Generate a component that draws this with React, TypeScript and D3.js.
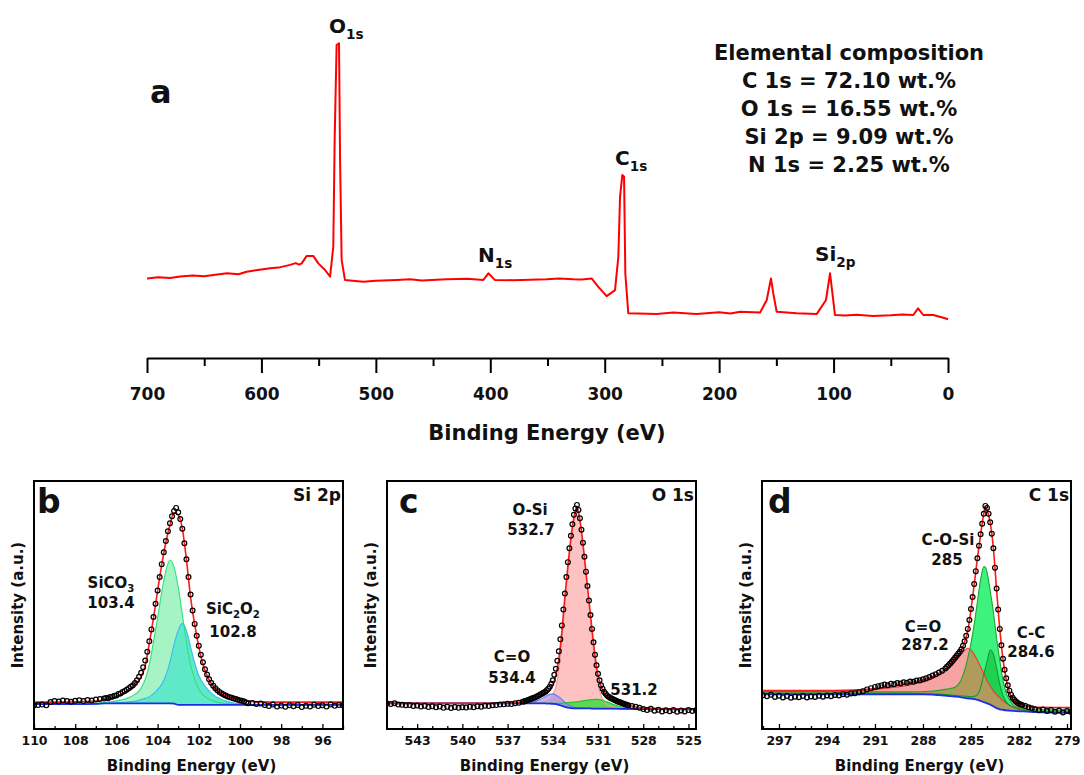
import React, { useEffect, useRef } from 'react';
import * as d3 from 'd3';

const W = 1084;
const H = 775;
const SANS = "'DejaVu Sans', Verdana, sans-serif";

// ---------- panel a : survey scan (binding energy eV, intensity a.u.) ----------
const surveyBE = [700, 690, 680, 671, 660, 650, 642, 630, 620, 613, 600, 592.5, 585, 575, 570, 567, 564.8, 560.4, 554.7, 550.3, 544.4, 540, 537.2, 536, 534.3, 532.2, 531.3, 529.9, 527, 511, 500, 481.8, 470, 460, 438, 420, 406, 401.7, 396, 380, 350.7, 340, 327.5, 320, 311.4, 305.6, 298.3, 291, 288.1, 286.6, 284.6, 283.1, 282, 279.4, 254.6, 240, 220, 210.9, 200, 190, 181.8, 164.3, 158.4, 154.7, 152.7, 149.7, 132.2, 114.8, 106.6, 103.1, 100.3, 98.8, 90, 80, 65.3, 50, 40, 30.3, 26.2, 21.6, 12.8, 2.6, 0];
const surveyI = [17.2, 17.6, 17.3, 17.8, 18.2, 17.9, 18.3, 18.9, 18.6, 19.4, 20.2, 20.6, 20.8, 21.7, 22.3, 21.8, 22.2, 24.7, 24.7, 22.2, 20, 17.8, 27.8, 63.3, 95, 95.6, 57.8, 23.3, 16.7, 16.1, 16.4, 16.7, 16.9, 16.5, 16.9, 17.1, 16.7, 18.9, 16.7, 16.6, 16.9, 17.2, 16.9, 16.8, 17.2, 14.4, 11.3, 13.3, 24.4, 44.4, 51.7, 51.1, 18.9, 5.6, 5.3, 5.8, 5.3, 5.6, 5.9, 5.5, 6.1, 5.8, 10, 17.2, 12.2, 6.1, 5.6, 5.3, 10, 18.9, 10, 5, 4.8, 5.1, 4.7, 4.9, 5.2, 5, 7.2, 5, 5, 3.9, 3.6];
const surveyTicks = [700, 600, 500, 400, 300, 200, 100, 0];
const surveyMinor = [650, 550, 450, 350, 250, 150, 50];
const composition: [string, string][] = [
  ['C 1s', '72.10'],
  ['O 1s', '16.55'],
  ['Si 2p', '9.09'],
  ['N 1s', '2.25'],
];

// ---------- panel b : Si 2p ----------
const bGrid = [110, 109, 108, 107, 106.6, 106.2, 105.8, 105.4, 105.0, 104.8, 104.6, 104.4, 104.2, 104.0, 103.8, 103.6, 103.4, 103.2, 103.0, 102.8, 102.6, 102.4, 102.2, 102.0, 101.8, 101.6, 101.4, 101.2, 101.0, 100.6, 100.2, 99.6, 99, 98, 95];
const bBaseline = [10.0, 10.0, 10.0, 10.1, 10.3, 10.3, 10.3, 10.3, 10.3, 10.3, 10.3, 10.3, 10.3, 10.3, 10.3, 10.3, 10.3, 10.2, 9.7, 9.7, 9.7, 9.7, 9.7, 9.7, 9.7, 9.7, 9.7, 9.7, 9.7, 9.7, 9.7, 9.7, 9.7, 9.7, 9.7];
const bEnvelope = [10.8, 10.8, 10.9, 11.2, 11.8, 12.6, 13.8, 15.5, 18.5, 21.0, 25.5, 34.5, 44.5, 55.5, 65.9, 75.0, 82.0, 86.8, 86.0, 80.5, 68.0, 53.0, 42.0, 33.0, 26.0, 21.5, 18.3, 16.2, 14.8, 13.0, 12.0, 11.2, 10.9, 10.8, 10.8];
const bSiCO3 = [10.0, 10.1, 10.2, 10.4, 10.6, 11.0, 11.6, 12.6, 14.5, 16.5, 20.0, 26.0, 35.0, 44.5, 55.0, 63.5, 67.9, 65.0, 57.0, 46.0, 35.0, 26.0, 20.0, 16.0, 13.8, 12.5, 11.6, 11.0, 10.6, 10.2, 10.0, 9.8, 9.7, 9.7, 9.7];
const bSiC2O2 = [10.0, 10.0, 10.0, 10.1, 10.3, 10.4, 10.6, 10.9, 11.3, 11.8, 12.3, 13.0, 14.2, 15.8, 18.0, 21.5, 27.0, 34.0, 39.5, 42.4, 39.5, 33.0, 26.5, 21.5, 18.5, 16.2, 14.5, 13.2, 12.3, 11.0, 10.3, 9.9, 9.7, 9.7, 9.7];
const bData: [number, number][] = [
  [110, 9.4], [109.8, 9.6], [109.6, 9.8], [109.4, 9.5], [109.2, 10.8], [109, 11.2], [108.8, 11.0], [108.6, 11.4], [108.4, 11.2], [108.2, 10.9], [108, 11.3], [107.8, 11.5], [107.6, 11.2], [107.4, 11.6], [107.2, 11.4], [107, 11.8], [106.8, 12.0],
  [106.6, 12.2], [106.5, 12.5], [106.4, 12.3], [106.3, 12.9], [106.2, 13.0], [106.1, 13.4], [106.0, 13.5], [105.9, 14.1], [105.8, 14.3], [105.7, 14.9], [105.6, 15.3], [105.5, 15.8], [105.4, 16.4], [105.3, 17.0], [105.2, 17.6], [105.1, 18.5], [105.0, 19.6], [104.9, 21.0], [104.8, 22.6], [104.7, 24.8], [104.6, 27.5], [104.5, 31.0], [104.4, 35.2], [104.3, 40.0], [104.2, 45.0], [104.1, 50.3], [104.0, 55.6], [103.9, 61.0], [103.8, 66.2], [103.7, 71.0], [103.6, 75.5], [103.5, 79.4], [103.4, 82.6], [103.3, 85.4], [103.2, 87.6], [103.1, 88.8], [103.0, 87.0], [102.9, 84.3], [102.8, 80.4], [102.7, 74.6], [102.6, 68.2], [102.5, 61.0], [102.4, 54.0], [102.3, 47.6], [102.2, 42.2], [102.1, 37.4], [102.0, 33.4], [101.9, 29.8], [101.8, 26.8], [101.7, 24.0], [101.6, 21.9], [101.5, 20.0], [101.4, 18.6], [101.3, 17.4], [101.2, 16.4], [101.1, 15.6], [101.0, 14.9], [100.9, 14.4], [100.8, 13.9], [100.7, 13.5], [100.6, 13.1], [100.5, 12.8], [100.4, 12.6], [100.3, 12.2], [100.2, 12.0], [100.1, 11.7], [100.0, 11.4], [99.9, 11.3], [99.8, 11.0], [99.7, 10.6], [99.6, 10.3],
  [99.4, 10.4], [99.2, 10.0], [99.0, 10.2], [98.8, 9.6], [98.6, 9.2], [98.4, 9.8], [98.2, 9.0], [98.0, 9.4], [97.8, 8.9], [97.6, 9.5], [97.4, 9.1], [97.2, 9.6], [97.0, 8.8], [96.8, 9.3], [96.6, 9.0], [96.4, 9.7], [96.2, 9.2], [96.0, 9.5], [95.8, 9.0], [95.6, 9.8], [95.4, 9.3], [95.2, 9.6], [95.0, 9.4],
];

// ---------- panel c : O 1s ----------
const cGrid = [545, 538, 536.5, 536, 535.5, 535, 534.6, 534.4, 534.2, 534.0, 533.8, 533.6, 533.4, 533.2, 533.0, 532.8, 532.6, 532.4, 532.2, 532.0, 531.8, 531.6, 531.4, 531.2, 531.0, 530.8, 530.6, 530.4, 530.0, 529.5, 529, 528.5, 528, 526, 524.5];
const cBaseline = [10.3, 10.3, 10.3, 10.3, 10.3, 10.3, 10.3, 10.2, 10.2, 10.1, 10.0, 9.7, 9.3, 8.9, 8.6, 8.4, 8.3, 8.3, 8.3, 8.3, 8.3, 8.3, 8.2, 8.2, 8.2, 8.2, 8.2, 8.2, 8.2, 8.1, 8.1, 8.0, 8.0, 7.9, 7.9];
const cEnvelope = [10.3, 10.3, 10.5, 10.9, 11.6, 12.5, 13.5, 14.3, 15.5, 17.8, 21.5, 28.0, 39.0, 53.0, 65.5, 76.5, 85.0, 88.9, 84.0, 74.5, 63.0, 51.5, 40.0, 29.5, 21.5, 17.2, 14.5, 13.0, 11.5, 10.5, 9.6, 8.8, 8.4, 8.1, 8.0];
const cOSi = [10.3, 10.3, 10.3, 10.3, 10.4, 10.6, 11.0, 11.4, 12.2, 13.8, 17.0, 23.5, 35.0, 49.5, 63.0, 74.5, 84.0, 88.5, 83.5, 73.5, 61.5, 49.5, 37.5, 26.5, 18.0, 13.5, 11.0, 9.8, 8.8, 8.4, 8.1, 8.0, 8.0, 7.9, 7.9];
const cCO = [10.3, 10.3, 10.3, 10.4, 10.7, 11.5, 12.6, 13.3, 13.9, 14.1, 13.7, 12.9, 11.9, 10.8, 9.9, 9.2, 8.7, 8.4, 8.3, 8.3, 8.3, 8.3, 8.2, 8.2, 8.2, 8.2, 8.2, 8.2, 8.2, 8.1, 8.1, 8.0, 8.0, 7.9, 7.9];
const cLow = [10.3, 10.3, 10.3, 10.3, 10.3, 10.3, 10.3, 10.3, 10.3, 10.3, 10.3, 10.35, 10.4, 10.5, 10.6, 10.7, 10.8, 10.9, 11.1, 11.3, 11.5, 11.7, 11.8, 11.9, 11.9, 11.7, 11.3, 10.9, 9.9, 8.9, 8.3, 8.0, 8.0, 7.9, 7.9];
const cData: [number, number][] = [
  [545.0, 10.2], [544.75, 10.0], [544.5, 10.3], [544.25, 9.8], [544.0, 9.7], [543.75, 9.5], [543.5, 9.6], [543.25, 9.2], [543.0, 9.4], [542.75, 9.0], [542.5, 9.3], [542.25, 8.8], [542.0, 9.1], [541.75, 8.7], [541.5, 9.0], [541.25, 8.5], [541.0, 8.9], [540.75, 8.4], [540.5, 8.8], [540.25, 8.5], [540.0, 8.7], [539.75, 8.6], [539.5, 8.9], [539.25, 8.7], [539.0, 9.1], [538.75, 8.9], [538.5, 9.3], [538.25, 9.2], [538.0, 9.5], [537.75, 9.6], [537.5, 9.8], [537.25, 9.9], [537.0, 10.1], [536.75, 10.0], [536.5, 10.3], [536.25, 10.5],
  [536.0, 10.9], [535.9, 11.0], [535.8, 11.3], [535.7, 11.4], [535.6, 11.7], [535.5, 11.9], [535.4, 12.2], [535.3, 12.4], [535.2, 12.7], [535.1, 13.0], [535.0, 13.3], [534.9, 13.6], [534.8, 14.0], [534.7, 14.3], [534.6, 14.7], [534.5, 15.0], [534.4, 15.6], [534.3, 16.2], [534.2, 17.0], [534.1, 18.2], [534.0, 19.6], [533.9, 21.8], [533.8, 24.2], [533.7, 27.4], [533.6, 31.2], [533.5, 36.0], [533.4, 41.6], [533.3, 48.0], [533.2, 54.4], [533.1, 61.0], [533.0, 67.0], [532.9, 72.6], [532.8, 77.6], [532.7, 82.2], [532.6, 86.0], [532.5, 88.6], [532.4, 90.0], [532.3, 88.0], [532.2, 84.6], [532.1, 80.0], [532.0, 74.8], [531.9, 69.2], [531.8, 63.2], [531.7, 57.4], [531.6, 51.6], [531.5, 45.8], [531.4, 40.2], [531.3, 34.8], [531.2, 29.8], [531.1, 25.6], [531.0, 22.2], [530.9, 19.6], [530.8, 17.6], [530.7, 16.2], [530.6, 15.0], [530.5, 14.2], [530.4, 13.5], [530.3, 13.0], [530.2, 12.6], [530.1, 12.2], [530.0, 11.9], [529.9, 11.6], [529.8, 11.3], [529.7, 11.0], [529.6, 10.8], [529.5, 10.6], [529.4, 10.3], [529.3, 10.1], [529.2, 9.9], [529.1, 9.7], [529.0, 9.5],
  [528.75, 9.2], [528.5, 8.9], [528.25, 8.5], [528.0, 8.0], [527.75, 7.6], [527.5, 8.1], [527.25, 7.3], [527.0, 7.7], [526.75, 7.0], [526.5, 7.5], [526.25, 7.1], [526.0, 7.6], [525.75, 6.9], [525.5, 7.4], [525.25, 7.0], [525.0, 7.6], [524.75, 7.2], [524.5, 7.5],
];

// ---------- panel d : C 1s ----------
const dGrid = [298, 294, 293, 292, 291, 290, 289.4, 289, 288.4, 288, 287.4, 287, 286.5, 286, 285.6, 285.4, 285.2, 285.0, 284.8, 284.6, 284.4, 284.2, 284.1, 284.0, 283.8, 283.6, 283.4, 283.2, 283.0, 282.8, 282.6, 282.4, 282.2, 281.9, 281.5, 281, 278.75];
const dBaseline = [13.9, 13.9, 13.9, 13.9, 13.9, 13.9, 13.9, 13.9, 13.9, 13.9, 13.8, 13.6, 13.3, 13.0, 12.7, 12.5, 12.3, 12.2, 12.0, 11.7, 11.3, 10.8, 10.6, 10.3, 9.8, 9.1, 8.4, 7.9, 7.7, 7.5, 7.4, 7.3, 7.2, 7.1, 7.0, 6.8, 6.5];
const dEnvelope = [15.4, 15.4, 15.5, 15.7, 16.2, 17.0, 17.7, 18.2, 19.0, 19.6, 21.0, 22.2, 24.4, 28.5, 31.5, 35.0, 39.5, 48.0, 58.0, 68.5, 78.0, 86.5, 89.3, 88.0, 83.0, 72.6, 56.0, 40.0, 28.0, 20.0, 14.8, 12.0, 10.8, 10.0, 9.2, 8.7, 8.6];
const dCO = [15.0, 15.1, 15.2, 15.4, 15.8, 16.6, 17.1, 17.5, 18.3, 18.8, 20.3, 21.8, 24.0, 27.0, 30.2, 31.6, 32.4, 31.8, 30.0, 27.6, 25.0, 22.3, 20.9, 19.5, 17.3, 15.3, 13.8, 12.5, 11.3, 10.4, 9.6, 9.0, 8.6, 8.1, 7.5, 7.1, 6.9];
const dCOSi = [14.9, 14.9, 14.9, 14.9, 14.9, 14.9, 14.9, 14.9, 14.9, 15.0, 15.2, 15.5, 16.0, 16.8, 20.0, 23.5, 28.5, 34.5, 42.0, 51.0, 60.0, 65.2, 65.0, 63.0, 55.5, 47.0, 36.5, 27.5, 19.5, 14.5, 11.8, 10.0, 9.0, 8.3, 8.0, 7.8, 7.6];
const dCC = [14.3, 14.3, 14.3, 14.3, 14.3, 14.3, 14.3, 14.3, 14.2, 14.2, 14.1, 14.0, 13.8, 13.5, 13.3, 13.2, 13.1, 13.0, 13.1, 13.8, 16.5, 22.0, 24.5, 27.0, 31.7, 30.0, 24.5, 18.0, 13.5, 11.0, 9.6, 8.8, 8.2, 7.7, 7.3, 7.0, 6.8];
const dData: [number, number][] = [
  [298.0, 13.6], [297.75, 13.2], [297.5, 13.8], [297.25, 12.9], [297.0, 13.4], [296.75, 12.7], [296.5, 13.3], [296.25, 12.6], [296.0, 13.0], [295.75, 12.8], [295.5, 13.3], [295.25, 12.7], [295.0, 13.1], [294.75, 12.9], [294.5, 13.4], [294.25, 13.0], [294.0, 13.5], [293.75, 13.2], [293.5, 13.7], [293.25, 13.5], [293.0, 14.0], [292.75, 13.8], [292.5, 14.3], [292.25, 14.4], [292.0, 14.8], [291.75, 15.2], [291.5, 15.9], [291.25, 16.4], [291.0, 16.9],
  [290.8, 17.2], [290.6, 17.5], [290.4, 17.9], [290.2, 17.6], [290.0, 18.2], [289.8, 18.0], [289.6, 18.5], [289.4, 18.3], [289.2, 18.8], [289.0, 18.6], [288.8, 19.1], [288.6, 19.0], [288.4, 19.5], [288.2, 19.6], [288.0, 20.0], [287.8, 20.4], [287.6, 20.9], [287.4, 21.5], [287.2, 22.0], [287.0, 22.7], [286.8, 23.4], [286.6, 24.3],
  [286.5, 25.0], [286.4, 25.6], [286.3, 26.3], [286.2, 27.0], [286.1, 27.8], [286.0, 28.6], [285.9, 29.4], [285.8, 30.2], [285.7, 31.0], [285.6, 32.0], [285.5, 33.4], [285.4, 35.2], [285.3, 37.4], [285.2, 40.2], [285.1, 43.8], [285.0, 48.2], [284.9, 53.0], [284.8, 58.2], [284.7, 63.4], [284.6, 68.6], [284.5, 73.6], [284.4, 78.2], [284.3, 82.4], [284.2, 86.4], [284.1, 89.6], [284.0, 88.8], [283.9, 86.4], [283.8, 83.0], [283.7, 78.4], [283.6, 72.6], [283.5, 64.8], [283.4, 56.4], [283.3, 48.0], [283.2, 40.2], [283.1, 33.6], [283.0, 28.2], [282.9, 23.8], [282.8, 20.4], [282.7, 17.6], [282.6, 15.4], [282.5, 13.8], [282.4, 12.6], [282.3, 11.7], [282.2, 11.0], [282.1, 10.5], [282.0, 10.1], [281.9, 9.8], [281.8, 9.6],
  [281.6, 9.2], [281.4, 8.7], [281.2, 8.3], [281.0, 7.9], [280.75, 7.5], [280.5, 7.8], [280.25, 7.2], [280.0, 7.6], [279.75, 6.9], [279.5, 7.4], [279.25, 6.6], [279.0, 7.2], [278.75, 6.8],
];

type Part = [string, boolean];
type Comp = { vals: number[]; fill: string; stroke: string; opacity?: number };
type Panel = {
  id: string; left: number; right: number; domain: [number, number];
  major: number[]; minor: number[];
  grid: number[]; baseline: number[]; envelope: number[];
  comps: Comp[]; overlap?: { a: number[]; b: number[]; fill: string };
  data: [number, number][];
  letterX: number; tag: string; yTitleX: number;
  labels: { x: number; y: number; parts: Part[] }[];
};

const panels: Panel[] = [
  {
    id: 'b', left: 34, right: 343, domain: [110, 95],
    major: [110, 108, 106, 104, 102, 100, 98, 96], minor: [109, 107, 105, 103, 101, 99, 97, 95],
    grid: bGrid, baseline: bBaseline, envelope: bEnvelope,
    comps: [
      { vals: bSiCO3, fill: '#a6f4c6', stroke: '#2fe07a' },
      { vals: bSiC2O2, fill: '#5fe9c9', stroke: '#3cb8ee' },
    ],
    data: bData, letterX: 37, tag: 'Si 2p', yTitleX: 23,
    labels: [
      { x: 111, y: 588, parts: [['SiCO', false], ['3', true]] },
      { x: 111, y: 608, parts: [['103.4', false]] },
      { x: 233, y: 614, parts: [['SiC', false], ['2', true], ['O', false], ['2', true]] },
      { x: 233, y: 637, parts: [['102.8', false]] },
    ],
  },
  {
    id: 'c', left: 387, right: 696, domain: [545, 524.5],
    major: [543, 540, 537, 534, 531, 528, 525], minor: [544, 542, 541, 539, 538, 536, 535, 533, 532, 530, 529, 527, 526],
    grid: cGrid, baseline: cBaseline, envelope: cEnvelope,
    comps: [
      { vals: cOSi, fill: '#ffc2c2', stroke: '#f59a9a' },
      { vals: cLow, fill: '#3fdc3f', stroke: '#22c422', opacity: 0.85 },
      { vals: cCO, fill: '#9c8cf0', stroke: '#5a7cf0', opacity: 0.65 },
    ],
    data: cData, letterX: 399, tag: 'O 1s', yTitleX: 376,
    labels: [
      { x: 530, y: 515, parts: [['O-Si', false]] },
      { x: 531, y: 535, parts: [['532.7', false]] },
      { x: 512, y: 662, parts: [['C=O', false]] },
      { x: 512, y: 683, parts: [['534.4', false]] },
      { x: 634, y: 695, parts: [['531.2', false]] },
    ],
  },
  {
    id: 'd', left: 762, right: 1071, domain: [298.06, 278.75],
    major: [297, 294, 291, 288, 285, 282, 279], minor: [298, 296, 295, 293, 292, 290, 289, 287, 286, 284, 283, 281, 280],
    grid: dGrid, baseline: dBaseline, envelope: dEnvelope,
    comps: [
      { vals: dCO, fill: '#f5a3a3', stroke: '#e83a3a' },
      { vals: dCOSi, fill: '#3df27e', stroke: '#1ea82a' },
      { vals: dCC, fill: '#1fd14e', stroke: '#0f9a35' },
    ],
    overlap: { a: dCO, b: dCOSi, fill: '#b09a5c' },
    data: dData, letterX: 768, tag: 'C 1s', yTitleX: 751,
    labels: [
      { x: 948, y: 545, parts: [['C-O-Si', false]] },
      { x: 947, y: 565, parts: [['285', false]] },
      { x: 923, y: 632, parts: [['C=O', false]] },
      { x: 925, y: 650, parts: [['287.2', false]] },
      { x: 1031, y: 638, parts: [['C-C', false]] },
      { x: 1031, y: 657, parts: [['284.6', false]] },
    ],
  },
];

function addText(g: any, x: number, y: number, parts: Part[], size: number, anchor = 'middle') {
  const t = g.append('text').attr('x', x).attr('y', y).attr('text-anchor', anchor)
    .attr('font-family', SANS).attr('font-weight', 'bold').attr('font-size', size).attr('fill', '#111');
  parts.forEach(([s, sub], i) => {
    const ts = t.append('tspan').text(s);
    if (sub) ts.attr('font-size', size * 0.68).attr('dy', size * 0.28);
    else if (i > 0 && parts[i - 1][1]) ts.attr('dy', -size * 0.28);
  });
  return t;
}

function drawSurvey(svg: any) {
  const x = d3.scaleLinear().domain([700, 0]).range([147, 948]);
  const y = d3.scaleLinear().domain([0, 100]).range([330, 30]);
  const g = svg.append('g');

  const line = d3.line<number>().x((i) => x(surveyBE[i])).y((i) => y(surveyI[i]));
  g.append('path').attr('d', line(surveyBE.map((_, i) => i)))
    .attr('fill', 'none').attr('stroke', '#ff0000').attr('stroke-width', 2).attr('stroke-linejoin', 'round');

  const ax = g.append('g').attr('transform', 'translate(0,358)')
    .call(d3.axisBottom(x).tickValues(surveyTicks).tickSizeInner(15).tickSizeOuter(0).tickPadding(15).tickFormat(d3.format('d')));
  ax.select('.domain').attr('stroke-width', 2.2);
  ax.selectAll('line').attr('stroke-width', 2);
  ax.selectAll('text').attr('font-family', SANS).attr('font-weight', 'bold').attr('font-size', 17).attr('fill', '#111');
  g.append('g').attr('transform', 'translate(0,358)')
    .call(d3.axisBottom(x).tickValues(surveyMinor).tickSize(8).tickFormat(() => ''))
    .call((s: any) => s.select('.domain').remove())
    .call((s: any) => s.selectAll('line').attr('stroke-width', 2));

  addText(g, 547, 440, [['Binding Energy (eV)', false]], 21);
  addText(g, 150, 103, [['a', false]], 32, 'start');

  addText(g, 329, 33, [['O', false], ['1s', true]], 20, 'start');
  addText(g, 478, 262, [['N', false], ['1s', true]], 20, 'start');
  addText(g, 615, 165, [['C', false], ['1s', true]], 20, 'start');
  addText(g, 815, 261, [['Si', false], ['2p', true]], 20, 'start');

  addText(g, 849, 60, [['Elemental composition', false]], 21);
  composition.forEach(([el, v], i) => {
    addText(g, 849, 88 + i * 28, [[`${el} = ${v} wt.%`, false]], 21);
  });
}

function drawPanel(svg: any, p: Panel) {
  const top = 481;
  const bottom = 729;
  const x = d3.scaleLinear().domain(p.domain).range([p.left, p.right]);
  const y = d3.scaleLinear().domain([0, 100]).range([bottom, 480]);
  const g = svg.append('g');
  const idx = p.grid.map((_, i) => i);

  g.append('clipPath').attr('id', `clip-${p.id}`).append('rect')
    .attr('x', p.left).attr('y', top).attr('width', p.right - p.left).attr('height', bottom - top);
  const plot = g.append('g').attr('clip-path', `url(#clip-${p.id})`);

  const area = (vals: number[]) => d3.area<number>()
    .x((i) => x(p.grid[i])).y0((i) => y(p.baseline[i])).y1((i) => y(vals[i]))
    .curve(d3.curveMonotoneX)(idx);
  const line = (vals: number[]) => d3.line<number>()
    .x((i) => x(p.grid[i])).y((i) => y(vals[i]))
    .curve(d3.curveMonotoneX)(idx);

  p.comps.forEach((c) => {
    plot.append('path').attr('d', area(c.vals)).attr('fill', c.fill).attr('fill-opacity', c.opacity ?? 1);
  });
  if (p.overlap) {
    const lo = idx.map((i) => Math.min(p.overlap!.a[i], p.overlap!.b[i]));
    plot.append('path').attr('d', area(lo)).attr('fill', p.overlap.fill);
  }
  p.comps.forEach((c) => {
    plot.append('path').attr('d', line(c.vals)).attr('fill', 'none').attr('stroke', c.stroke).attr('stroke-width', 1.1);
  });

  plot.append('path').attr('d', line(p.baseline)).attr('fill', 'none').attr('stroke', '#1a2ee6').attr('stroke-width', 1.8);
  plot.append('path').attr('d', line(p.envelope)).attr('fill', 'none').attr('stroke', '#ff1a1a').attr('stroke-width', 1.6);

  plot.append('g').selectAll('circle').data(p.data).enter().append('circle')
    .attr('cx', (d: [number, number]) => x(d[0])).attr('cy', (d: [number, number]) => y(d[1]))
    .attr('r', 2.4).attr('fill', 'none').attr('stroke', '#000').attr('stroke-width', 1.2);

  g.append('rect').attr('x', p.left).attr('y', top).attr('width', p.right - p.left).attr('height', bottom - top)
    .attr('fill', 'none').attr('stroke', '#000').attr('stroke-width', 2);

  const ax = g.append('g').attr('transform', `translate(0,${bottom})`)
    .call(d3.axisBottom(x).tickValues(p.major).tickSizeInner(-5).tickSizeOuter(0).tickPadding(7).tickFormat(d3.format('d')));
  ax.select('.domain').remove();
  ax.selectAll('line').attr('stroke-width', 1.3);
  ax.selectAll('text').attr('font-family', SANS).attr('font-weight', 'bold').attr('font-size', 12.5).attr('fill', '#111');
  g.append('g').attr('transform', `translate(0,${bottom})`)
    .call(d3.axisBottom(x).tickValues(p.minor).tickSizeInner(-3).tickSizeOuter(0).tickFormat(() => ''))
    .call((s: any) => s.select('.domain').remove())
    .call((s: any) => s.selectAll('line').attr('stroke-width', 1.3));

  addText(g, (p.left + p.right) / 2 + 3, 771, [['Binding Energy (eV)', false]], 15);
  addText(g, 0, 0, [['Intensity (a.u.)', false]], 15)
    .attr('transform', `translate(${p.yTitleX},605) rotate(-90)`);
  addText(g, p.letterX, 513, [[p.id, false]], 33, 'start');
  addText(g, p.right - 2, 501, [[p.tag, false]], 17, 'end');
  p.labels.forEach((l) => addText(g, l.x, l.y, l.parts, 15));
}

export default function App() {
  const ref = useRef<SVGSVGElement | null>(null);

  useEffect(() => {
    const svg = d3.select(ref.current);
    svg.selectAll('*').remove();
    svg.append('rect').attr('width', W).attr('height', H).attr('fill', '#fff');
    drawSurvey(svg);
    panels.forEach((p) => drawPanel(svg, p));
  }, []);

  return (
    <div style={{ position: 'absolute', left: 0, top: 0 }}>
      <svg ref={ref} width={W} height={H} style={{ display: 'block' }} />
    </div>
  );
}
